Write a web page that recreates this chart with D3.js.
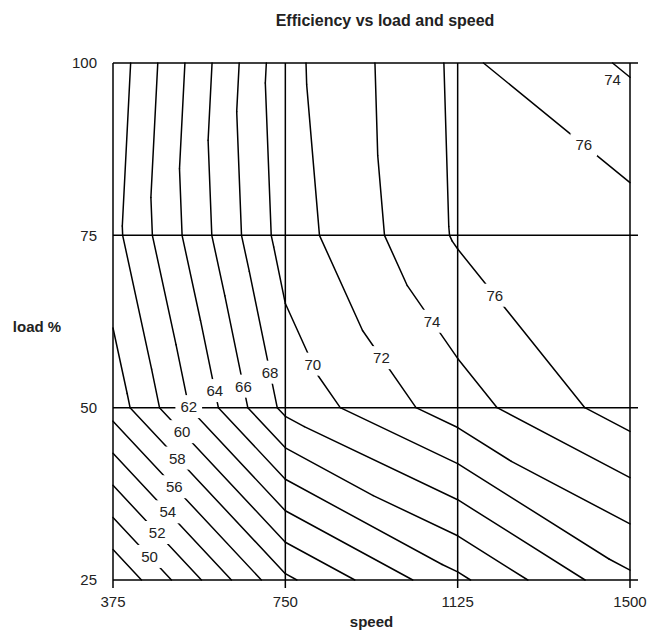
<!DOCTYPE html>
<html>
<head>
<meta charset="utf-8">
<script src="https://cdn.jsdelivr.net/npm/d3@7"></script>
<style>
  body { margin: 0; background: #fff; }
  text { font-family: "Liberation Sans", Arial, sans-serif; fill: #222; }
</style>
</head>
<body>
<script>
// grid of measured efficiency, rows = load, columns = speed
const speeds = [375, 750, 1125, 1500];
const loads = [25, 50, 75, 100];
const efficiency = [
  [46.1, 57.6, 63.55, 69.57],   // load 25
  [56.84, 68.55, 73.1, 77.03],  // load 50
  [59.35, 70.95, 76.25, 77.0],  // load 75
  [58.7, 71.4, 76.4, 73.73]     // load 100
];
const levels = [48, 50, 52, 54, 56, 58, 60, 62, 64, 66, 68, 70, 72, 74, 76];

// how each cell is cut in two triangles: "up" = lower-left to upper-right, "down" = upper-left to lower-right
const cellSplit = [
  ["down", "down", "down"],
  ["up", "up", "down"],
  ["up", "down", "down"]
];

// contour labels: level, rough place (speed, load), and whether it sits in the line
const labelLevels = [50, 52, 54, 56, 58, 60, 62, 64, 66, 68, 70, 72, 74, 76, 76, 74];
const labelSpeeds = [448, 465, 493, 505, 517, 522, 537, 592, 651, 707, 810, 956, 1073, 1204, 1404, 1462];
const labelLoads = [28.0, 31.5, 34.8, 38.3, 42.8, 46.3, 50.1, 52.4, 53.0, 55.0, 56.3, 57.1, 62.7, 66.2, 88.5, 97.6];
const labelInline = [true, true, true, true, true, true, true, true, true, true, true, true, true, true, true, false];

const W = 649, H = 631;
const margin = { top: 63, right: 19, bottom: 51, left: 113 };

const svg = d3.select("body").append("svg")
    .attr("width", W)
    .attr("height", H);

const x = d3.scaleLinear().domain([375, 1500]).range([margin.left, W - margin.right]);
const y = d3.scaleLinear().domain([25, 100]).range([H - margin.bottom, margin.top]);

// contour segments from linear interpolation on triangles
function triSegment(pts, level) {
    const out = [];
    for (let k = 0; k < 3; k++) {
        const a = pts[k], b = pts[(k + 1) % 3];
        if ((a[2] - level) * (b[2] - level) < 0) {
            const t = (level - a[2]) / (b[2] - a[2]);
            out.push([a[0] + t * (b[0] - a[0]), a[1] + t * (b[1] - a[1])]);
        }
    }
    return out.length === 2 ? out : null;
}

const segments = [];
for (let j = 0; j < loads.length - 1; j++) {
    for (let i = 0; i < speeds.length - 1; i++) {
        const bl = [speeds[i], loads[j], efficiency[j][i]];
        const br = [speeds[i + 1], loads[j], efficiency[j][i + 1]];
        const tl = [speeds[i], loads[j + 1], efficiency[j + 1][i]];
        const tr = [speeds[i + 1], loads[j + 1], efficiency[j + 1][i + 1]];
        const tris = cellSplit[j][i] === "up"
            ? [[bl, tl, tr], [bl, br, tr]]
            : [[tl, bl, br], [tl, tr, br]];
        levels.forEach(level => {
            tris.forEach(tri => {
                const s = triSegment(tri, level);
                if (s) segments.push({ level, pts: s });
            });
        });
    }
}

const line = d3.line().x(d => x(d[0])).y(d => y(d[1]));

// mask used to open gaps where labels sit
const mask = svg.append("defs").append("mask").attr("id", "gaps");
mask.append("rect").attr("width", W).attr("height", H).attr("fill", "#fff");

const plot = svg.append("g").attr("mask", "url(#gaps)");

// grid lines
plot.selectAll(".vgrid").data(speeds).join("line")
    .attr("x1", d => x(d)).attr("x2", d => x(d))
    .attr("y1", y(100)).attr("y2", y(25) + 8)
    .attr("stroke", "#000").attr("stroke-width", 1.5);
plot.selectAll(".hgrid").data(loads).join("line")
    .attr("x1", x(375)).attr("x2", x(1500) + 8)
    .attr("y1", d => y(d)).attr("y2", d => y(d))
    .attr("stroke", "#000").attr("stroke-width", 1.5);

// contours
plot.selectAll(".seg").data(segments).join("path")
    .attr("d", d => line(d.pts))
    .attr("fill", "none")
    .attr("stroke", "#000")
    .attr("stroke-width", 1.5)
    .attr("stroke-linecap", "round");

// labels snapped to the nearest point of their contour
function nearestOnLevel(level, px, py) {
    let best = null, bestD = Infinity;
    segments.filter(s => s.level === level).forEach(s => {
        const ax = x(s.pts[0][0]), ay = y(s.pts[0][1]);
        const bx = x(s.pts[1][0]), by = y(s.pts[1][1]);
        const dx = bx - ax, dy = by - ay;
        let t = ((px - ax) * dx + (py - ay) * dy) / (dx * dx + dy * dy);
        t = Math.max(0, Math.min(1, t));
        const qx = ax + t * dx, qy = ay + t * dy;
        const d = (qx - px) ** 2 + (qy - py) ** 2;
        if (d < bestD) { bestD = d; best = [qx, qy]; }
    });
    return best || [px, py];
}

labelLevels.forEach((level, k) => {
    const px = x(labelSpeeds[k]), py = y(labelLoads[k]);
    const p = labelInline[k] ? nearestOnLevel(level, px, py) : [px, py];
    const t = svg.append("text")
        .attr("x", p[0]).attr("y", p[1])
        .attr("dy", "0.36em")
        .attr("text-anchor", "middle")
        .attr("font-size", 15)
        .text(level);
    if (!labelInline[k]) return;
    const b = t.node().getBBox();
    mask.append("rect")
        .attr("x", b.x - 5).attr("y", b.y - 3)
        .attr("width", b.width + 10).attr("height", b.height + 6)
        .attr("fill", "#000");
});

// tick labels
svg.selectAll(".xtick").data(speeds).join("text")
    .attr("x", d => x(d)).attr("y", y(25) + 27)
    .attr("text-anchor", "middle")
    .attr("font-size", 15)
    .text(d => d);
svg.selectAll(".ytick").data(loads).join("text")
    .attr("x", x(375) - 16).attr("y", d => y(d))
    .attr("dy", "0.36em")
    .attr("text-anchor", "end")
    .attr("font-size", 15)
    .text(d => d);

// titles
svg.append("text")
    .attr("x", 385).attr("y", 26)
    .attr("text-anchor", "middle")
    .attr("font-size", 16).attr("font-weight", "bold")
    .text("Efficiency vs load and speed");
svg.append("text")
    .attr("x", (x(375) + x(1500)) / 2).attr("y", 627)
    .attr("text-anchor", "middle")
    .attr("font-size", 15).attr("font-weight", "bold")
    .text("speed");
svg.append("text")
    .attr("x", 37).attr("y", 327)
    .attr("dy", "0.36em")
    .attr("text-anchor", "middle")
    .attr("font-size", 15).attr("font-weight", "bold")
    .text("load %");
</script>
</body>
</html>
